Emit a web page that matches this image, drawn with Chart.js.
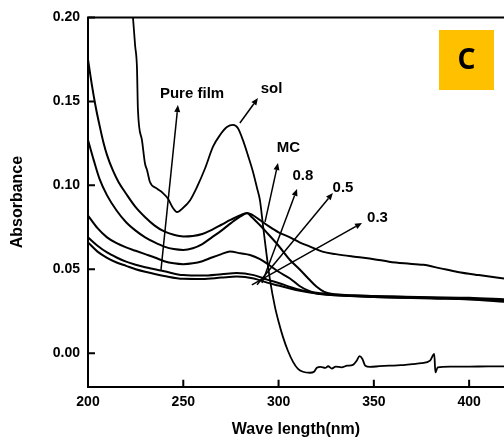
<!DOCTYPE html>
<html><head><meta charset="utf-8">
<style>html,body{margin:0;padding:0;background:#fff;overflow:hidden}</style>
<script src="https://cdn.jsdelivr.net/npm/chart.js@4.4.1/dist/chart.umd.min.js"></script>
</head><body>
<canvas id="c" width="504" height="440"></canvas>
<script>
// ---- data ----
const xTicks = [200, 250, 300, 350, 400];
const yTicks = [0.00, 0.05, 0.10, 0.15, 0.20];

const solWl  = [222.3,223.6,224.7,225.7,226.2,228.3,229.9,231,232.5,236.2,239.3,242,244.6,246.7,249.8,253.5,257.2,261.4,265.6,269.3,272.9,276.1,278.7,281.3,283.9,286.6,288.7,290.2,291.8,293.4,295.5,298.1,300.2,302.3,304.9,307.6,310.2,312.8,316.5,318.6,320.1,322,324.5,326,328,330,333,336,339,341,342.5,344,345.5,348,353,358,364,370,375,379.5,381.7,382.3,383.5,390,400,410,419];
const solAbs = [0.215,0.200,0.1835,0.170,0.145,0.127,0.113,0.109,0.102,0.098,0.0954,0.092,0.0865,0.0841,0.0865,0.091,0.099,0.110,0.123,0.130,0.1347,0.136,0.134,0.1269,0.118,0.108,0.0984,0.0913,0.0764,0.0615,0.0436,0.0276,0.018,0.0097,0.0014,-0.0052,-0.0094,-0.0111,-0.0117,-0.0111,-0.0087,-0.0082,-0.0088,-0.0078,-0.0092,-0.0080,-0.0085,-0.0075,-0.0070,-0.0045,-0.0018,-0.0035,-0.0075,-0.0082,-0.0078,-0.0075,-0.0072,-0.0065,-0.0060,-0.0045,-0.0005,-0.0115,-0.0085,-0.0080,-0.0080,-0.0079,-0.0079];

const mcWl  = [200,202,204,206,208,210,213,216,220,225,230,235,240,245,250,255,260,265,270,275,280,283.5,286,290,295,300,306,311,316.5,323,330,341,350,358,366,376,385,394,405,419];
const mcAbs = [0.175,0.160,0.147,0.136,0.126,0.118,0.109,0.102,0.095,0.087,0.081,0.076,0.0725,0.0705,0.0695,0.0698,0.071,0.0735,0.0765,0.0795,0.0822,0.0835,0.0825,0.0795,0.0755,0.072,0.069,0.066,0.0635,0.0605,0.059,0.0573,0.056,0.0545,0.0535,0.0526,0.0505,0.0484,0.0465,0.0443];

const p8Wl  = [200,203,206,210,215,220,225,230,235,240,245,250,255,260,265,270,275,280,283.5,286,290,294,300,306,311,316,320,324,330,340,360,380,400,419];
const p8Abs = [0.127,0.115,0.104,0.094,0.085,0.078,0.073,0.069,0.066,0.0635,0.062,0.0615,0.0625,0.065,0.069,0.073,0.0775,0.0815,0.0833,0.081,0.0765,0.0716,0.064,0.0555,0.050,0.044,0.0395,0.0365,0.035,0.0343,0.0337,0.0333,0.0330,0.0320];

const p5Wl  = [200,205,210,215,220,225,230,235,240,245,250,255,260,265,270,274.5,280,285,290,295,300,306,311,316,320,330,350,380,400,419];
const p5Abs = [0.082,0.0745,0.069,0.0655,0.063,0.061,0.059,0.057,0.0548,0.0535,0.053,0.0535,0.0548,0.057,0.059,0.0605,0.0595,0.0585,0.0562,0.0525,0.0485,0.0445,0.040,0.037,0.0355,0.0345,0.0335,0.0328,0.0324,0.0312];

const lowWl   = [200,205,210,215,220,225,230,240,250,260,270,278,287,294,300,306,312,320,330,350,380,400,419];
const pureAbs = [0.069,0.064,0.060,0.057,0.0545,0.0527,0.0512,0.0488,0.0465,0.0462,0.047,0.0478,0.0465,0.0438,0.0418,0.0395,0.0375,0.036,0.035,0.034,0.033,0.0325,0.0315];
const p3Abs   = [0.066,0.0605,0.0568,0.054,0.052,0.050,0.0485,0.046,0.0443,0.0442,0.045,0.0456,0.0445,0.042,0.0403,0.0385,0.037,0.0355,0.0345,0.0335,0.0325,0.032,0.0305];

// annotation texts and arrows, in data coordinates (wavelength, absorbance)
const noteText = ['Pure film', 'sol', 'MC', '0.8', '0.5', '0.3'];
const noteAt   = [[254.6,0.1543],[296.3,0.1573],[305.2,0.1225],[312.8,0.1055],[333.8,0.0984],[351.9,0.0808]];
const arrowFrom = [[238.3,0.0496],[279.7,0.1371],[292.9,0.0782],[291.3,0.0418],[288.7,0.0407],[286.0,0.0407]];
const arrowTo   = [[247.2,0.1478],[289.2,0.1520],[299.7,0.1133],[309.7,0.0978],[328.5,0.0954],[343.8,0.0776]];
const panelLetter = 'C';

// ---- chart ----
const FONT = "'Liberation Sans', Arial, sans-serif";
const pts = (xs, ys) => xs.map((x, i) => ({x: x, y: ys[i]}));
const line = (label, xs, ys, w) => ({
  label, data: pts(xs, ys), borderColor: '#000', borderWidth: w,
  pointRadius: 0, fill: false, cubicInterpolationMode: 'monotone'
});

const overlay = {
  id: 'overlay',
  afterDraw(chart) {
    const {ctx, chartArea: a, scales: {x, y}} = chart;
    ctx.save();
    ctx.strokeStyle = '#000';
    ctx.fillStyle = '#000';
    // top frame
    ctx.lineWidth = 2;
    ctx.beginPath();
    ctx.moveTo(a.left - 1, a.top);
    ctx.lineTo(a.right, a.top);
    ctx.stroke();
    // inner tick marks
    ctx.beginPath();
    xTicks.forEach(v => { const p = x.getPixelForValue(v); ctx.moveTo(p, a.bottom); ctx.lineTo(p, a.bottom - 7); });
    yTicks.forEach(v => { const p = y.getPixelForValue(v); ctx.moveTo(a.left, p); ctx.lineTo(a.left + 7, p); });
    ctx.stroke();
    // arrows
    ctx.lineWidth = 1.5;
    arrowFrom.forEach((f, i) => {
      const x0 = x.getPixelForValue(f[0]), y0 = y.getPixelForValue(f[1]);
      const x1 = x.getPixelForValue(arrowTo[i][0]), y1 = y.getPixelForValue(arrowTo[i][1]);
      const ang = Math.atan2(y1 - y0, x1 - x0);
      const L = 7, W = 3;
      const bx = x1 - L * Math.cos(ang), by = y1 - L * Math.sin(ang);
      ctx.beginPath(); ctx.moveTo(x0, y0); ctx.lineTo(bx, by); ctx.stroke();
      ctx.beginPath();
      ctx.moveTo(x1, y1);
      ctx.lineTo(bx + W * Math.sin(ang), by - W * Math.cos(ang));
      ctx.lineTo(bx - W * Math.sin(ang), by + W * Math.cos(ang));
      ctx.closePath(); ctx.fill();
    });
    // labels
    ctx.font = "bold 15px " + FONT;
    ctx.textAlign = 'center';
    ctx.textBaseline = 'middle';
    noteText.forEach((t, i) => {
      ctx.fillText(t, x.getPixelForValue(noteAt[i][0]), y.getPixelForValue(noteAt[i][1]));
    });
    // panel badge
    const bx = a.right - 65, by = a.top + 12.5;
    ctx.fillStyle = '#FFC000';
    ctx.fillRect(bx, by, 55, 60);
    ctx.fillStyle = '#000';
    ctx.font = "bold 28px 'Noto Sans', 'Open Sans', sans-serif";
    ctx.fillText(panelLetter, bx + 27.5, by + 31);
    ctx.restore();
  }
};

new Chart(document.getElementById('c'), {
  type: 'line',
  data: {
    datasets: [
      line('sol', solWl, solAbs, 1.8),
      line('MC', mcWl, mcAbs, 2),
      line('0.8', p8Wl, p8Abs, 2),
      line('0.5', p5Wl, p5Abs, 2),
      line('Pure film', lowWl, pureAbs, 2),
      line('0.3', lowWl, p3Abs, 2)
    ]
  },
  options: {
    responsive: false,
    animation: false,
    devicePixelRatio: 1,
    layout: {padding: {top: 17.5, right: 0, left: 0, bottom: 0}},
    plugins: {legend: {display: false}, tooltip: {enabled: false}},
    scales: {
      x: {
        type: 'linear', min: 200, max: 418.3,
        afterBuildTicks: s => { s.ticks = xTicks.map(v => ({value: v})); },
        afterFit: s => { s.height = 53.3; },
        grid: {display: false, drawTicks: false},
        border: {display: true, color: '#000', width: 2},
        ticks: {color: '#000', padding: 7, maxRotation: 0, autoSkip: false,
                font: {family: FONT, size: 14, weight: 'bold'}},
        title: {display: true, text: 'Wave length(nm)', color: '#000',
                font: {family: FONT, size: 16, weight: 'bold'}, padding: {top: 0, bottom: 1}}
      },
      y: {
        type: 'linear', min: -0.02, max: 0.20,
        afterBuildTicks: s => { s.ticks = yTicks.map(v => ({value: v})); },
        afterFit: s => { s.width = 88; },
        grid: {display: false, drawTicks: false},
        border: {display: true, color: '#000', width: 2},
        ticks: {color: '#000', padding: 8, callback: v => Number(v).toFixed(2),
                font: {family: FONT, size: 14, weight: 'bold'}},
        title: {display: true, text: 'Absorbance', color: '#000',
                font: {family: FONT, size: 16, weight: 'bold'}, padding: {top: 8, bottom: 0}}
      }
    }
  },
  plugins: [overlay]
});
</script>
</body></html>
